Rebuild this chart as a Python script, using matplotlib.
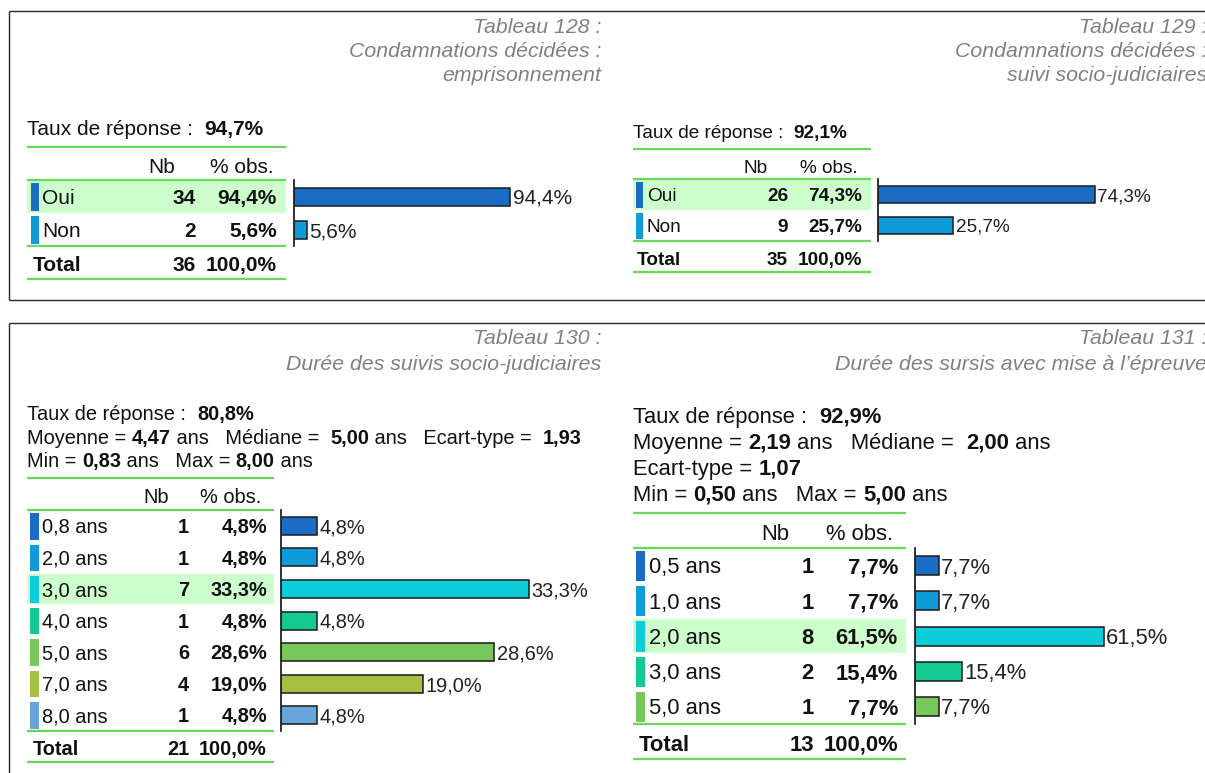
import matplotlib
matplotlib.use("Agg")
import matplotlib.pyplot as plt
from matplotlib.patches import Rectangle
from matplotlib.lines import Line2D

plt.rcParams['font.family'] = ['Liberation Sans', 'DejaVu Sans']

W, H, DPI = 1205, 773, 100

# ---------------- data ----------------
title_128 = ["Tableau 128 :", "Condamnations décidées :", "emprisonnement"]
cats_128 = ["Oui", "Non"]
nb_128 = [34, 2]
pct_128 = [94.4, 5.6]
total_128 = 36
taux_128 = 94.7

title_129 = ["Tableau 129 :", "Condamnations décidées :", "suivi socio-judiciaires"]
cats_129 = ["Oui", "Non"]
nb_129 = [26, 9]
pct_129 = [74.3, 25.7]
total_129 = 35
taux_129 = 92.1

title_130 = ["Tableau 130 :", "Durée des suivis socio-judiciaires"]
cats_130 = ["0,8 ans", "2,0 ans", "3,0 ans", "4,0 ans", "5,0 ans", "7,0 ans", "8,0 ans"]
nb_130 = [1, 1, 7, 1, 6, 4, 1]
pct_130 = [4.8, 4.8, 33.3, 4.8, 28.6, 19.0, 4.8]
total_130 = 21
taux_130 = 80.8
moyenne_130, mediane_130, ecart_130, min_130, max_130 = 4.47, 5.00, 1.93, 0.83, 8.00

title_131 = ["Tableau 131 :", "Durée des sursis avec mise à l’épreuve"]
cats_131 = ["0,5 ans", "1,0 ans", "2,0 ans", "3,0 ans", "5,0 ans"]
nb_131 = [1, 1, 8, 2, 1]
pct_131 = [7.7, 7.7, 61.5, 15.4, 7.7]
total_131 = 13
taux_131 = 92.9
moyenne_131, mediane_131, ecart_131, min_131, max_131 = 2.19, 2.00, 1.07, 0.50, 5.00

palette = ["#1b6cc4", "#0e9bd8", "#0ccdd8", "#14c992", "#78c85e", "#a6c046", "#68a6da"]

GREEN_LINE = "#68d858"
HILITE = "#ccffcc"
FRAME = "#3b2114"
TITLE_GREY = "#808080"
INK = "#111111"


def fr1(v):
    return f"{v:.1f}".replace(".", ",")


def fr2(v):
    return f"{v:.2f}".replace(".", ",")


fig = plt.figure(figsize=(W / DPI, H / DPI), dpi=DPI)
bg = fig.add_axes([0, 0, 1, 1])
bg.set_xlim(0, W)
bg.set_ylim(H, 0)
bg.axis("off")
renderer = fig.canvas.get_renderer()


def px(fs):
    return fs * DPI / 72.0


def base(yc, fs):
    # baseline placed so that capital letters are centred on yc
    return yc + 0.358 * px(fs)


def txt(x, yc, s, fs, bold=False, ha="left", **kw):
    return bg.text(x, base(yc, fs), s, fontsize=fs, ha=ha, va="baseline",
                   fontweight="bold" if bold else "normal", color=kw.pop("color", INK), **kw)


def width(s, fs, bold=False):
    w = "bold" if bold else "normal"
    t1 = bg.text(0, 0, s + "|", fontsize=fs, fontweight=w)
    t2 = bg.text(0, 0, "|", fontsize=fs, fontweight=w)
    d = t1.get_window_extent(renderer).width - t2.get_window_extent(renderer).width
    t1.remove()
    t2.remove()
    return d


def runs(x, yc, parts, fs):
    for s, b in parts:
        txt(x, yc, s, fs, bold=b)
        x += width(s, fs, b)


def hline(y, x0, x1, color=GREEN_LINE, lw=1.6):
    bg.add_line(Line2D([x0, x1], [y, y], color=color, lw=lw, solid_capstyle="butt"))


def vline(x, y0, y1, color=FRAME, lw=1.0):
    bg.add_line(Line2D([x, x], [y0, y1], color=color, lw=lw, solid_capstyle="butt"))


def title(lines, xr, ys):
    for s, y in zip(lines, ys):
        bg.text(xr, base(y, 15.3), s, fontsize=15.3, style="italic", color=TITLE_GREY,
                ha="right", va="baseline", clip_on=True)


def panel(cats, nb, pct, total, taux, stats, L):
    fs = L["fs"]
    left, right = L["left"], L["right"]
    # response rate and descriptive statistics
    runs(left, L["taux_y"], [("Taux de réponse :  ", False), (fr1(taux) + "%", True)], fs)
    for parts, y in zip(stats, L["stats_y"]):
        runs(left, y, parts, fs)
    hline(L["line1"], left, right)
    txt(L["nb_hdr"], L["hdr_y"], "Nb", fs, ha="center")
    txt(L["pct_hdr"], L["hdr_y"], "% obs.", fs, ha="center")
    hline(L["line2"], left, right)

    n = len(cats)
    top, bot = L["line2"], L["line3"]
    rh = (bot - top) / n
    best = pct.index(max(pct))
    for i, (c, k, p) in enumerate(zip(cats, nb, pct)):
        y0 = top + i * rh
        yc = y0 + rh / 2
        if i == best:
            bg.add_patch(Rectangle((left, y0 + 1), right - left, rh - 1.5,
                                   facecolor=HILITE, edgecolor="none"))
        bg.add_patch(Rectangle((L["mk"][0], y0 + 3), L["mk"][1] - L["mk"][0], rh - 5,
                               facecolor=palette[i], edgecolor="none"))
        txt(L["lab_x"], yc, c, fs)
        txt(L["nb_r"], yc, str(k), fs, bold=True, ha="right")
        txt(L["pct_r"], yc, fr1(p) + "%", fs, bold=True, ha="right")
    hline(bot, left, right)
    txt(L["tot_x"], L["tot_y"], "Total", fs, bold=True)
    txt(L["nb_r"], L["tot_y"], str(total), fs, bold=True, ha="right")
    txt(L["pct_r"], L["tot_y"], fr1(100.0) + "%", fs, bold=True, ha="right")
    hline(L["line4"], left, right)

    # horizontal bars
    ax_w = 260
    ax = fig.add_axes([L["axis_x"] / W, 1 - bot / H, ax_w / W, (bot - top) / H])
    ax.set_xlim(0, ax_w / L["ppp"])
    ax.set_ylim(n - 0.5, -0.5)
    ax.patch.set_alpha(0)
    for s in ("top", "right", "bottom"):
        ax.spines[s].set_visible(False)
    ax.spines["left"].set_color("#222222")
    ax.spines["left"].set_linewidth(1.3)
    ax.set_xticks([])
    ax.set_yticks([])
    ax.barh(range(n), pct, height=L["bar_h"] / rh, color=palette[:n],
            edgecolor="#1a1a1a", linewidth=1.1)
    for i, p in enumerate(pct):
        ax.text(p + 2.5 / L["ppp"], i, fr1(p) + "%", fontsize=fs, color="#222222",
                ha="left", va="center_baseline", clip_on=False)


# ---------------- frames ----------------
hline(11, 9, W, color=FRAME, lw=1.0)
hline(300, 9, W, color=FRAME, lw=1.0)
vline(9, 11, 300)
hline(322.5, 9, W, color=FRAME, lw=1.0)
vline(9, 322.5, H)

# ---------------- titles ----------------
title(title_128, 601, [25, 49.3, 73.5])
title(title_129, 1207, [25, 49.3, 73.5])
title(title_130, 601, [336, 362])
title(title_131, 1207, [336, 362])

# ---------------- panels ----------------
panel(cats_128, nb_128, pct_128, total_128, taux_128, [],
      dict(fs=15, left=27, right=286, taux_y=128, stats_y=[], line1=147, hdr_y=166,
           nb_hdr=162, pct_hdr=242, line2=180, line3=246, tot_y=264, line4=279,
           mk=(31, 38.5), lab_x=42, tot_x=33, nb_r=196, pct_r=277,
           axis_x=294, ppp=2.29, bar_h=18))

panel(cats_129, nb_129, pct_129, total_129, taux_129, [],
      dict(fs=13.7, left=633, right=871, taux_y=131, stats_y=[], line1=149, hdr_y=166,
           nb_hdr=756, pct_hdr=829, line2=179, line3=241, tot_y=258, line4=272,
           mk=(636, 643), lab_x=647, tot_x=637, nb_r=788, pct_r=862,
           axis_x=878, ppp=2.92, bar_h=17))

stats_rows_130 = [
    [("Moyenne = ", False), (fr2(moyenne_130), True), (" ans   Médiane =  ", False),
     (fr2(mediane_130), True), (" ans   Ecart-type =  ", False), (fr2(ecart_130), True)],
    [("Min = ", False), (fr2(min_130), True), (" ans   Max = ", False),
     (fr2(max_130), True), (" ans", False)],
]
panel(cats_130, nb_130, pct_130, total_130, taux_130, stats_rows_130,
      dict(fs=14.4, left=27, right=274, taux_y=413, stats_y=[437, 460], line1=478, hdr_y=496,
           nb_hdr=156, pct_hdr=231, line2=510, line3=731, tot_y=748, line4=762,
           mk=(30, 38.5), lab_x=42, tot_x=33, nb_r=189, pct_r=267,
           axis_x=281, ppp=7.45, bar_h=18))

stats_rows_131 = [
    [("Moyenne = ", False), (fr2(moyenne_131), True), (" ans   Médiane =  ", False),
     (fr2(mediane_131), True), (" ans", False)],
    [("Ecart-type = ", False), (fr2(ecart_131), True)],
    [("Min = ", False), (fr2(min_131), True), (" ans   Max = ", False),
     (fr2(max_131), True), (" ans", False)],
]
panel(cats_131, nb_131, pct_131, total_131, taux_131, stats_rows_131,
      dict(fs=15.8, left=633, right=906, taux_y=415, stats_y=[441, 467, 493], line1=513,
           hdr_y=532, nb_hdr=775, pct_hdr=860, line2=548, line3=724, tot_y=743, line4=759,
           mk=(636, 645), lab_x=649, tot_x=639, nb_r=814, pct_r=898,
           axis_x=915, ppp=3.07, bar_h=19))

fig.savefig("out.png", dpi=DPI)
